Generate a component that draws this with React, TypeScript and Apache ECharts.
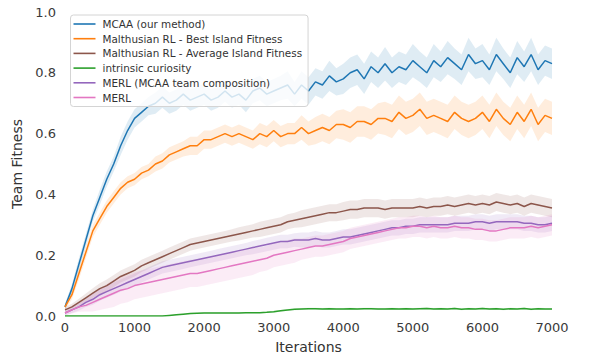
import React, { useEffect, useRef } from "react";
import * as echarts from "echarts";

const iterations = Array.from({ length: 71 }, (_, i) => String(i * 100));

const seriesNames = [
  "MCAA (our method)",
  "Malthusian RL - Best Island Fitness",
  "Malthusian RL - Average Island Fitness",
  "intrinsic curiosity",
  "MERL (MCAA team composition)",
  "MERL",
];
const seriesColors = ["#1f77b4", "#ff7f0e", "#8c564b", "#2ca02c", "#9467bd", "#e377c2"];

const mcaa = [
  0.03, 0.09, 0.17, 0.25, 0.33, 0.39, 0.45, 0.5, 0.56, 0.61,
  0.65, 0.67, 0.69, 0.7, 0.72, 0.7, 0.71, 0.73, 0.71, 0.72,
  0.73, 0.71, 0.72, 0.74, 0.72, 0.73, 0.71, 0.74, 0.75, 0.73,
  0.74, 0.75, 0.76, 0.73, 0.76, 0.74, 0.77, 0.76, 0.79, 0.77,
  0.78, 0.8, 0.81, 0.78, 0.82, 0.8, 0.83, 0.8, 0.82, 0.81,
  0.84, 0.82, 0.8, 0.84, 0.82, 0.85, 0.83, 0.81, 0.86, 0.83,
  0.84, 0.81, 0.86, 0.83, 0.8, 0.85, 0.82, 0.86, 0.81, 0.84, 0.83,
];
const mcaaSpread = [
  0.01, 0.015, 0.02, 0.02, 0.02, 0.025, 0.025, 0.025, 0.03, 0.03,
  0.03, 0.03, 0.03, 0.035, 0.035, 0.035, 0.035, 0.035, 0.035, 0.035,
  0.035, 0.035, 0.035, 0.035, 0.035, 0.035, 0.04, 0.04, 0.04, 0.04,
  0.04, 0.04, 0.045, 0.04, 0.045, 0.045, 0.045, 0.045, 0.05, 0.045,
  0.05, 0.05, 0.05, 0.05, 0.05, 0.05, 0.055, 0.05, 0.05, 0.05,
  0.055, 0.05, 0.05, 0.055, 0.05, 0.055, 0.05, 0.05, 0.055, 0.05,
  0.055, 0.05, 0.055, 0.05, 0.05, 0.055, 0.05, 0.055, 0.05, 0.05, 0.05,
];

const bestIsland = [
  0.03, 0.07, 0.14, 0.21, 0.28, 0.32, 0.36, 0.39, 0.42, 0.44,
  0.45, 0.47, 0.48, 0.5, 0.51, 0.53, 0.54, 0.55, 0.56, 0.56,
  0.58, 0.58, 0.59, 0.6, 0.59, 0.6, 0.59, 0.58, 0.6, 0.59,
  0.61, 0.59, 0.6, 0.6, 0.62, 0.6, 0.61, 0.62, 0.61, 0.63,
  0.63, 0.62, 0.64, 0.64, 0.63, 0.65, 0.65, 0.64, 0.67, 0.65,
  0.66, 0.68, 0.65, 0.66, 0.65, 0.64, 0.67, 0.65, 0.64, 0.65,
  0.67, 0.64, 0.68, 0.65, 0.63, 0.67, 0.64, 0.68, 0.63, 0.66, 0.65,
];
const bestIslandSpread = [
  0.01, 0.015, 0.02, 0.02, 0.02, 0.02, 0.02, 0.02, 0.02, 0.02,
  0.02, 0.02, 0.02, 0.025, 0.025, 0.025, 0.025, 0.025, 0.03, 0.03,
  0.03, 0.03, 0.03, 0.03, 0.03, 0.03, 0.03, 0.03, 0.035, 0.035,
  0.035, 0.035, 0.035, 0.035, 0.04, 0.04, 0.045, 0.045, 0.045, 0.045,
  0.05, 0.05, 0.05, 0.05, 0.05, 0.05, 0.055, 0.055, 0.055, 0.055,
  0.055, 0.055, 0.055, 0.055, 0.055, 0.055, 0.055, 0.055, 0.055, 0.055,
  0.055, 0.055, 0.055, 0.055, 0.055, 0.055, 0.055, 0.055, 0.055, 0.055, 0.055,
];

const avgIsland = [
  0.02, 0.03, 0.045, 0.06, 0.075, 0.09, 0.1, 0.115, 0.13, 0.14,
  0.15, 0.165, 0.175, 0.185, 0.195, 0.205, 0.215, 0.225, 0.235, 0.24,
  0.245, 0.25, 0.255, 0.26, 0.265, 0.27, 0.275, 0.28, 0.285, 0.29,
  0.295, 0.3, 0.31, 0.315, 0.32, 0.325, 0.33, 0.335, 0.34, 0.34,
  0.345, 0.35, 0.35, 0.355, 0.355, 0.355, 0.35, 0.355, 0.355, 0.355,
  0.355, 0.36, 0.355, 0.36, 0.36, 0.365, 0.36, 0.365, 0.37, 0.365,
  0.37, 0.365, 0.375, 0.37, 0.365, 0.37, 0.36, 0.37, 0.365, 0.36, 0.355,
];
const avgIslandSpread = [
  0.01, 0.01, 0.012, 0.014, 0.016, 0.018, 0.02, 0.02, 0.02, 0.02,
  0.02, 0.02, 0.02, 0.02, 0.02, 0.02, 0.02, 0.02, 0.02, 0.02,
  0.02, 0.02, 0.02, 0.02, 0.02, 0.022, 0.022, 0.022, 0.025, 0.025,
  0.025, 0.025, 0.025, 0.025, 0.028, 0.028, 0.028, 0.028, 0.028, 0.028,
  0.03, 0.03, 0.03, 0.03, 0.03, 0.03, 0.03, 0.03, 0.03, 0.03,
  0.03, 0.03, 0.03, 0.03, 0.03, 0.03, 0.03, 0.03, 0.03, 0.03,
  0.03, 0.03, 0.03, 0.03, 0.03, 0.03, 0.03, 0.03, 0.03, 0.03, 0.03,
];

const curiosity = [
  0, 0, 0, 0, 0, 0, 0, 0, 0, 0,
  0, 0, 0, 0, 0, 0.002, 0.004, 0.006, 0.008, 0.009,
  0.01, 0.01, 0.01, 0.01, 0.01, 0.01, 0.011, 0.011, 0.011, 0.012,
  0.014, 0.017, 0.02, 0.022, 0.023, 0.024, 0.024, 0.023, 0.024, 0.023,
  0.023, 0.024, 0.023, 0.024, 0.024, 0.023, 0.023, 0.024, 0.023, 0.024,
  0.023, 0.024, 0.025, 0.023, 0.024, 0.023, 0.025, 0.022, 0.024, 0.023,
  0.025, 0.023, 0.024, 0.022, 0.024, 0.023, 0.025, 0.022, 0.024, 0.023, 0.023,
];
const curiositySpread = [
  0.001, 0.001, 0.001, 0.001, 0.001, 0.001, 0.001, 0.001, 0.001, 0.001,
  0.001, 0.001, 0.001, 0.001, 0.001, 0.002, 0.002, 0.002, 0.002, 0.002,
  0.002, 0.002, 0.002, 0.002, 0.002, 0.002, 0.002, 0.002, 0.002, 0.002,
  0.003, 0.003, 0.003, 0.003, 0.003, 0.003, 0.003, 0.003, 0.003, 0.003,
  0.003, 0.003, 0.003, 0.003, 0.003, 0.003, 0.003, 0.003, 0.003, 0.003,
  0.003, 0.003, 0.003, 0.003, 0.003, 0.003, 0.003, 0.003, 0.003, 0.003,
  0.003, 0.003, 0.003, 0.003, 0.003, 0.003, 0.003, 0.003, 0.003, 0.003, 0.003,
];

const merlTeam = [
  0.01, 0.02, 0.03, 0.045, 0.055, 0.07, 0.08, 0.09, 0.1, 0.11,
  0.12, 0.13, 0.14, 0.15, 0.16, 0.165, 0.17, 0.175, 0.18, 0.185,
  0.19, 0.195, 0.2, 0.205, 0.21, 0.215, 0.22, 0.225, 0.23, 0.235,
  0.24, 0.245, 0.245, 0.25, 0.25, 0.25, 0.255, 0.25, 0.25, 0.255,
  0.26, 0.26, 0.265, 0.27, 0.275, 0.28, 0.285, 0.29, 0.29, 0.295,
  0.295, 0.3, 0.3, 0.3, 0.3, 0.3, 0.305, 0.305, 0.305, 0.31,
  0.31, 0.305, 0.31, 0.31, 0.31, 0.31, 0.305, 0.305, 0.3, 0.3, 0.305,
];
const merlTeamSpread = [
  0.008, 0.01, 0.012, 0.015, 0.018, 0.02, 0.02, 0.02, 0.02, 0.02,
  0.02, 0.02, 0.02, 0.02, 0.02, 0.02, 0.02, 0.02, 0.02, 0.02,
  0.02, 0.02, 0.02, 0.02, 0.02, 0.02, 0.02, 0.022, 0.022, 0.022,
  0.022, 0.022, 0.022, 0.022, 0.025, 0.025, 0.025, 0.025, 0.025, 0.025,
  0.025, 0.025, 0.025, 0.025, 0.025, 0.025, 0.025, 0.025, 0.025, 0.025,
  0.025, 0.025, 0.025, 0.025, 0.025, 0.025, 0.025, 0.025, 0.025, 0.025,
  0.025, 0.025, 0.025, 0.025, 0.025, 0.025, 0.025, 0.025, 0.025, 0.025, 0.025,
];

const merl = [
  0.01, 0.02, 0.03, 0.035, 0.045, 0.055, 0.065, 0.075, 0.085, 0.09,
  0.1, 0.105, 0.11, 0.115, 0.12, 0.125, 0.13, 0.135, 0.14, 0.14,
  0.145, 0.15, 0.155, 0.16, 0.165, 0.17, 0.175, 0.18, 0.185, 0.19,
  0.2, 0.205, 0.21, 0.215, 0.22, 0.225, 0.23, 0.23, 0.235, 0.24,
  0.245, 0.255, 0.26, 0.265, 0.27, 0.275, 0.28, 0.285, 0.29, 0.29,
  0.295, 0.295, 0.29, 0.295, 0.29, 0.29, 0.295, 0.29, 0.29, 0.285,
  0.285, 0.28, 0.28, 0.285, 0.29, 0.29, 0.29, 0.295, 0.29, 0.295, 0.3,
];
const merlSpread = [
  0.008, 0.012, 0.016, 0.02, 0.03, 0.035, 0.04, 0.045, 0.045, 0.045,
  0.045, 0.045, 0.045, 0.045, 0.045, 0.045, 0.045, 0.045, 0.045, 0.045,
  0.045, 0.045, 0.045, 0.045, 0.045, 0.045, 0.045, 0.045, 0.04, 0.04,
  0.04, 0.04, 0.04, 0.04, 0.035, 0.035, 0.035, 0.035, 0.035, 0.035,
  0.035, 0.035, 0.035, 0.035, 0.035, 0.035, 0.035, 0.035, 0.035, 0.035,
  0.035, 0.035, 0.035, 0.035, 0.035, 0.035, 0.035, 0.035, 0.035, 0.035,
  0.035, 0.035, 0.035, 0.035, 0.035, 0.035, 0.035, 0.035, 0.035, 0.035, 0.035,
];

const yTicks = [0, 0.2, 0.4, 0.6, 0.8, 1.0];

const means = [mcaa, bestIsland, avgIsland, curiosity, merlTeam, merl];
const spreads = [mcaaSpread, bestIslandSpread, avgIslandSpread, curiositySpread, merlTeamSpread, merlSpread];

const FONT = "DejaVu Sans";

function hexToRgba(hex: string, a: number) {
  const r = parseInt(hex.slice(1, 3), 16);
  const g = parseInt(hex.slice(3, 5), 16);
  const b = parseInt(hex.slice(5, 7), 16);
  return `rgba(${r},${g},${b},${a})`;
}

export default function App() {
  const ref = useRef<HTMLDivElement>(null);
  useEffect(() => {
    if (!ref.current) return;
    const chart = echarts.init(ref.current, undefined, { renderer: "svg" });
    const series: any[] = [];
    means.forEach((m, i) => {
      const s = spreads[i];
      const color = seriesColors[i];
      series.push({
        name: "lo" + i,
        type: "line",
        stack: "band" + i,
        data: m.map((v, k) => v - s[k]),
        symbol: "none",
        showSymbol: false,
        lineStyle: { opacity: 0, width: 0 },
        silent: true,
        z: 1,
      });
      series.push({
        name: "band" + i,
        type: "line",
        stack: "band" + i,
        data: s.map((v) => 2 * v),
        symbol: "none",
        showSymbol: false,
        lineStyle: { opacity: 0, width: 0 },
        areaStyle: { color: hexToRgba(color, 0.2) },
        silent: true,
        z: 1,
      });
    });
    means.forEach((m, i) => {
      series.push({
        name: seriesNames[i],
        type: "line",
        data: m,
        symbol: "none",
        showSymbol: false,
        itemStyle: { color: seriesColors[i] },
        lineStyle: { width: 1.5, color: seriesColors[i] },
        z: 3,
      });
    });
    chart.setOption({
      animation: false,
      backgroundColor: "#ffffff",
      grid: { left: 65, right: 38, top: 12, bottom: 44 },
      legend: {
        data: seriesNames,
        orient: "vertical",
        left: 70.5,
        top: 15,
        icon: "rect",
        itemWidth: 22,
        itemHeight: 1.6,
        itemGap: 4.7,
        padding: [4, 6, 4, 3],
        backgroundColor: "rgba(255,255,255,0.8)",
        borderColor: "#d4d4d4",
        borderWidth: 1,
        borderRadius: 3,
        textStyle: {
          fontSize: 10.4,
          lineHeight: 10,
          color: "#333333",
          fontFamily: FONT,
          padding: [0, 0, 0, 2],
        },
      },
      xAxis: {
        type: "category",
        data: iterations,
        boundaryGap: false,
        name: "Iterations",
        nameLocation: "middle",
        nameGap: 24,
        nameTextStyle: { fontSize: 14, color: "#333333", fontFamily: FONT },
        axisLine: { show: false },
        axisTick: { show: false },
        splitLine: { show: false },
        axisLabel: { interval: 9, fontSize: 13, color: "#3a3a3a", fontFamily: FONT, margin: 5 },
      },
      yAxis: {
        type: "value",
        min: yTicks[0],
        max: yTicks[yTicks.length - 1],
        interval: 0.2,
        name: "Team Fitness",
        nameLocation: "middle",
        nameGap: 36,
        nameTextStyle: { fontSize: 14, color: "#333333", fontFamily: FONT },
        axisLine: { show: false },
        axisTick: { show: false },
        splitLine: { show: false },
        axisLabel: {
          fontSize: 13,
          color: "#3a3a3a",
          fontFamily: FONT,
          margin: 9,
          formatter: (v: number) => v.toFixed(1),
        },
      },
      series,
    });
    return () => chart.dispose();
  }, []);
  return <div ref={ref} style={{ width: 590, height: 360, position: "absolute", left: 0, top: 0 }} />;
}
